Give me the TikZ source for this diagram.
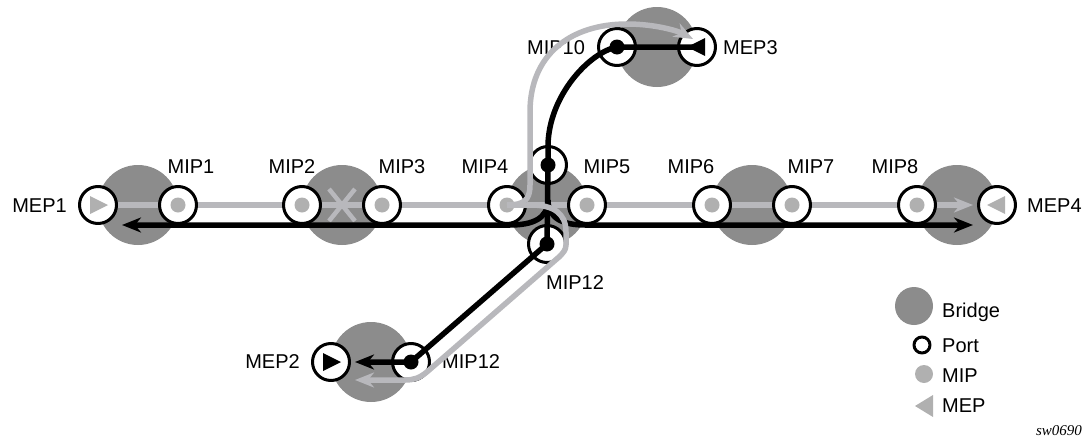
\documentclass[tikz,border=0pt]{standalone}
\usepackage{fontspec}
\setmainfont{Liberation Sans}
\newfontfamily\tagfont{Liberation Serif}
\usetikzlibrary{arrows.meta}
\definecolor{bridgegray}{RGB}{140,140,140}
\definecolor{lightpath}{RGB}{184,184,188}
\definecolor{mipgray}{RGB}{176,176,176}
\pgfdeclarelayer{bg}
\pgfsetlayers{bg,main}
\begin{document}
\begin{tikzpicture}[x=1pt,y=-1pt,line join=round,
  bridge/.style={circle,fill=bridgegray,minimum size=80,inner sep=0pt},
  port/.style={circle,draw=black,line width=3pt,fill=white,minimum size=37,inner sep=0pt},
  mipdot/.style={circle,fill=mipgray,minimum size=15,inner sep=0pt},
  blackdot/.style={circle,fill=black,minimum size=15,inner sep=0pt},
  lbl/.style={font=\fontsize{20}{24}\selectfont,inner sep=0pt},
  greypath/.style={draw=lightpath,line width=5.5pt},
  blackpath/.style={draw=black,line width=5.5pt},
  tipped/.style={-{Stealth[length=19,width=15,inset=6]}},
]
\useasboundingbox (0,0) rectangle (1085,442);

% ports (maintenance end points and intermediate points)
\node[port] (mep1) at (98,205) {};
\node[port] (mip1) at (178,205) {};
\node[port] (mip2) at (302,205) {};
\node[port] (mip3) at (382,205) {};
\node[port] (mip4) at (507,205) {};
\node[port] (mip5) at (587,205) {};
\node[port] (pc) at (548,165) {};
\node[port] (pb) at (547,244) {};
\node[port] (mip6) at (712,205) {};
\node[port] (mip7) at (792,205) {};
\node[port] (mip8) at (917,205) {};
\node[port] (mep4) at (997,205) {};
\node[port] (mip10) at (617,47) {};
\node[port] (mep3) at (697,47) {};
\node[port] (mep2) at (331,362) {};
\node[port] (mip12b) at (411,362) {};

\begin{pgfonlayer}{bg}
  % bridges
  \node[bridge] (br1) at (138,205) {};
  \node[bridge] (br2) at (342,205) {};
  \node[bridge] (br3) at (547,205) {};
  \node[bridge] (br4) at (657,47) {};
  \node[bridge] (br5) at (752,205) {};
  \node[bridge] (br6) at (957,205) {};
  \node[bridge] (br7) at (371,362) {};
  % blocked link mark
  \draw[lightpath,line width=4.5pt] (br2.center) +(-13,-16) -- +(13,16);
  \draw[lightpath,line width=4.5pt] (br2.center) +(13,-16) -- +(-13,16);
  % grey trail along the main row
  \coordinate (greyEnd) at (973,205);
  \draw[greypath,tipped] (mep1.east) -- (greyEnd);
\end{pgfonlayer}

% intermediate point dots
\foreach \p in {mip1,mip2,mip3,mip4,mip5,mip6,mip7,mip8}
  \node[mipdot] at (\p.center) {};

% black trail from MEP3
\coordinate (bend10) at (548,145);
\coordinate (jn) at (548,200);
\coordinate (armW) at (510,225);
\coordinate (armE) at (585,225);
\coordinate (blackW) at (122,225);
\coordinate (blackE) at (973,225);
\coordinate (blackS) at (355,362);
\draw[blackpath] (mep3.center) -- (mip10.center)
  .. controls (590,52) and (549,95) .. (bend10) -- (pc.center) -- (pb.center);
\draw[blackpath,tipped] (pb.center) -- (mip12b.center) -- (blackS);
\draw[blackpath,tipped] (jn) .. controls (548,219) and (532,225) .. (armW) -- (blackW);
\draw[blackpath,tipped] (jn) .. controls (548,219) and (564,225) .. (armE) -- (blackE);

\foreach \p in {pc,pb,mip10,mip12b}
  \node[blackdot] at (\p.center) {};

% end point triangles
\fill[mipgray,shift={(mep1.center)}] (-8,-9) -- (10,0) -- (-8,9) -- cycle;
\fill[mipgray,shift={(mep4.center)}] (8,-9) -- (-10,0) -- (8,9) -- cycle;
\fill[black,shift={(mep3.center)}] (8,-9) -- (-10,0) -- (8,9) -- cycle;
\fill[black,shift={(mep2.center)}] (-8,-9) -- (10,0) -- (-8,9) -- cycle;

% labels
\node[lbl,anchor=east] (tMEP1) at (67,206) {MEP1};
\node[lbl] (tMIP1) at (191,167) {MIP1};
\node[lbl] (tMIP2) at (292,167) {MIP2};
\node[lbl] (tMIP3) at (402,167) {MIP3};
\node[lbl] (tMIP4) at (485,167) {MIP4};
\node[lbl] (tMIP5) at (607,167) {MIP5};
\node[lbl] (tMIP6) at (691,167) {MIP6};
\node[lbl] (tMIP7) at (811,167) {MIP7};
\node[lbl] (tMIP8) at (895,167) {MIP8};
\node[lbl,anchor=west] (tMEP4) at (1027,206) {MEP4};
\node[lbl] (tMIP10) at (556,48) {MIP10};
\node[lbl,anchor=west] (tMEP3) at (723,48) {MEP3};
\node[lbl] (tMIP12a) at (575,283) {MIP12};
\node[lbl,anchor=east] (tMEP2) at (300,362) {MEP2};
\node[lbl,anchor=west] (tMIP12b) at (442,362) {MIP12};

% grey trails branching towards MEP3 and MEP2
\coordinate (rise) at (530,185);
\coordinate (riseTop) at (530,112);
\coordinate (crest) at (627,24);
\coordinate (greyN) at (693,39);
\draw[greypath,tipped] (mip4.center) .. controls (524,205) and (530,200) .. (rise)
  -- (riseTop) .. controls (530,55) and (570,24) .. (crest)
  .. controls (655,24) and (678,31) .. (greyN);
\coordinate (dropA) at (531,205);
\coordinate (dropB) at (566,232);
\coordinate (dropC) at (566,245);
\coordinate (diagA) at (559,257);
\coordinate (diagB) at (428,371);
\coordinate (flatS) at (405,380);
\coordinate (greyS) at (355,380);
\draw[greypath,tipped] (mip4.center) -- (dropA)
  .. controls (553,205) and (566,213) .. (dropB) -- (dropC)
  .. controls (566,250) and (563,253) .. (diagA) -- (diagB)
  .. controls (420,378) and (414,380) .. (flatS) -- (greyS);

% legend
\node[bridge,minimum size=38] (kBridge) at (914,306) {};
\node[port,minimum size=16] (kPort) at (922,345) {};
\node[mipdot,minimum size=18] (kMIP) at (924,374) {};
\fill[mipgray] (915,406) -- (933,395) -- (933,417) -- cycle;
\node[lbl,anchor=base west] (tBridge) at (942,317) {Bridge};
\node[lbl,anchor=base west] (tPort) at (942,352) {Port};
\node[lbl,anchor=base west] (tMIP) at (942,382) {MIP};
\node[lbl,anchor=base west] (tMEP) at (942,412) {MEP};
\node[inner sep=0pt,font=\tagfont\itshape\fontsize{15}{18}\selectfont] (tag) at (1059,431) {sw0690};
\end{tikzpicture}
\end{document}
